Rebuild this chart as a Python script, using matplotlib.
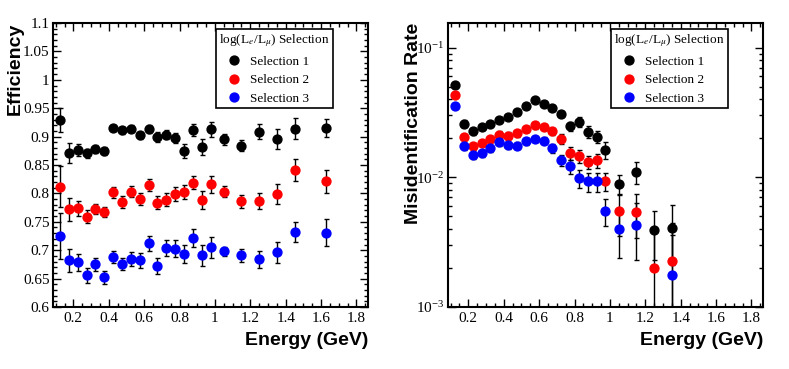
import numpy as np
import matplotlib
matplotlib.use('Agg')
import matplotlib.pyplot as plt
from matplotlib.ticker import MultipleLocator, LogLocator, NullFormatter

plt.rcParams['font.family'] = ['Liberation Serif', 'DejaVu Serif']
plt.rcParams['mathtext.fontset'] = 'stix'

# energy bin centres (GeV)
energy = [0.125, 0.175, 0.225, 0.275, 0.325, 0.375, 0.425, 0.475, 0.525, 0.575,
          0.625, 0.675, 0.725, 0.775, 0.825, 0.875, 0.925, 0.975,
          1.05, 1.15, 1.25, 1.35, 1.45, 1.625]

# efficiency
eff1 = [0.929, 0.871, 0.876, 0.871, 0.878, 0.874, 0.915, 0.911, 0.914, 0.902, 0.914, 0.899,
        0.903, 0.897, 0.875, 0.912, 0.882, 0.913, 0.895, 0.884, 0.909, 0.896, 0.914, 0.915]
eff1_err = [0.021, 0.017, 0.011, 0.008, 0.007, 0.007, 0.005, 0.006, 0.006, 0.007, 0.007, 0.009,
            0.008, 0.009, 0.012, 0.011, 0.014, 0.013, 0.010, 0.010, 0.014, 0.017, 0.019, 0.016]
eff2 = [0.812, 0.772, 0.774, 0.759, 0.772, 0.767, 0.802, 0.785, 0.803, 0.790, 0.815, 0.784,
        0.789, 0.799, 0.803, 0.819, 0.789, 0.816, 0.803, 0.786, 0.787, 0.799, 0.841, 0.821]
eff2_err = [0.036, 0.020, 0.013, 0.011, 0.009, 0.009, 0.010, 0.010, 0.010, 0.011, 0.011, 0.011,
            0.012, 0.012, 0.012, 0.012, 0.016, 0.015, 0.010, 0.011, 0.014, 0.017, 0.019, 0.020]
eff3 = [0.725, 0.682, 0.679, 0.656, 0.675, 0.652, 0.688, 0.676, 0.684, 0.682, 0.712, 0.672,
        0.704, 0.703, 0.694, 0.722, 0.691, 0.705, 0.698, 0.691, 0.684, 0.696, 0.732, 0.731]
eff3_err = [0.040, 0.021, 0.015, 0.013, 0.012, 0.012, 0.011, 0.011, 0.012, 0.013, 0.013, 0.014,
            0.014, 0.015, 0.016, 0.016, 0.018, 0.018, 0.008, 0.012, 0.015, 0.018, 0.018, 0.024]

# misidentification rate (only up to 1.35 GeV)
energy_mis = energy[:22]
mis1 = [0.0512, 0.0260, 0.0227, 0.0244, 0.0260, 0.0279, 0.0291, 0.0318, 0.0358, 0.0392, 0.0369,
        0.0344, 0.0309, 0.0248, 0.0268, 0.0225, 0.0206, 0.0162, 0.0089, 0.0110, 0.0039, 0.0041]
mis1_err = [0.0020, 0.0015, 0.0013, 0.0013, 0.0013, 0.0014, 0.0014, 0.0015, 0.0016, 0.0017, 0.0017,
            0.0017, 0.0018, 0.0020, 0.0025, 0.0025, 0.0022, 0.0024, 0.0016, 0.0021, 0.0016, 0.0020]
mis2 = [0.0434, 0.0205, 0.0174, 0.0184, 0.0198, 0.0214, 0.0210, 0.0218, 0.0238, 0.0252, 0.0244,
        0.0227, 0.0198, 0.0154, 0.0145, 0.0131, 0.0135, 0.0093, 0.0055, 0.0054, 0.0020, 0.00225]
mis2_err = [0.0018, 0.0012, 0.0011, 0.0011, 0.0012, 0.0012, 0.0012, 0.0012, 0.0013, 0.0014, 0.0014,
            0.0014, 0.0018, 0.0017, 0.0017, 0.0016, 0.0016, 0.0015, 0.0020, 0.0020, 0.0020, 0.0022]
mis3 = [0.0358, 0.0174, 0.0148, 0.0154, 0.0167, 0.0187, 0.0177, 0.0176, 0.0190, 0.0198, 0.0192,
        0.0167, 0.0136, 0.0122, 0.0098, 0.0093, 0.0093, 0.0055, 0.0040, 0.0043, np.nan, 0.00177]
mis3_err = [0.0016, 0.0011, 0.0010, 0.0010, 0.0010, 0.0011, 0.0011, 0.0011, 0.0011, 0.0012, 0.0012,
            0.0013, 0.0013, 0.0015, 0.0015, 0.0016, 0.0016, 0.0013, 0.0016, 0.0020, np.nan, 0.0018]

labels = ['Selection 1', 'Selection 2', 'Selection 3']
colors = ['black', 'red', 'blue']
legend_title = r'log(L$_{e}$/L$_{\mu}$) Selection'
xtick_labels = ['0.2', '0.4', '0.6', '0.8', '1', '1.2', '1.4', '1.6', '1.8']

fig = plt.figure(figsize=(7.89, 3.69), dpi=100)
ax1 = fig.add_axes([0.0672, 0.168, 0.3992, 0.7696])
ax2 = fig.add_axes([0.5678, 0.168, 0.3992, 0.7696])


def draw(ax, x, series, errs):
    handles = []
    for y, e, c, lab in zip(series, errs, colors, labels):
        ax.errorbar(x, y, yerr=e, fmt='none', ecolor='black', elinewidth=1.0,
                    capsize=1.8, capthick=1.0, zorder=2)
        h, = ax.plot(x, y, 'o', color=c, ms=6.4, mec=c, ls='none', label=lab, zorder=3)
        handles.append(h)
    leg = ax.legend(handles=handles, title=legend_title, loc='upper left',
                    bbox_to_anchor=(0.517, 0.979), borderaxespad=0, fontsize=9.5,
                    title_fontsize=9.5, alignment='left', fancybox=False,
                    edgecolor='black', framealpha=1, handlelength=2.2,
                    handletextpad=0.15, labelspacing=0.48, borderpad=0.25)
    leg.get_frame().set_linewidth(1.2)
    ax.set_xlim(0.085, 1.865)
    ax.set_xticks(np.arange(0.2, 1.801, 0.2))
    ax.set_xticklabels(xtick_labels)
    ax.xaxis.set_minor_locator(MultipleLocator(0.05))
    ax.tick_params(which='both', direction='in', top=True, right=True, labelsize=11, width=1.0)
    ax.tick_params(which='major', length=6)
    ax.tick_params(which='minor', length=3)
    for s in ax.spines.values():
        s.set_linewidth(1.5)
    ax.text(1.0, -0.118, 'Energy (GeV)', transform=ax.transAxes, ha='right', va='center',
            fontsize=14, fontweight='bold', family='Liberation Sans')


draw(ax1, energy, [eff1, eff2, eff3], [eff1_err, eff2_err, eff3_err])
ax1.set_ylim(0.6, 1.1)
ax1.set_yticks(np.arange(0.6, 1.1001, 0.05))
ax1.set_yticklabels(['0.6', '0.65', '0.7', '0.75', '0.8', '0.85', '0.9', '0.95', '1', '1.05', '1.1'])
ax1.yaxis.set_minor_locator(MultipleLocator(0.01))
ax1.tick_params(axis='y', pad=2.5)
ax1.text(-0.12, 1.0, 'Efficiency', transform=ax1.transAxes, rotation=90, ha='center', va='top',
         fontsize=14, fontweight='bold', family='Liberation Sans')

draw(ax2, energy_mis, [mis1, mis2, mis3], [mis1_err, mis2_err, mis3_err])
ax2.set_yscale('log')
ax2.set_ylim(1e-3, 0.155)
ax2.yaxis.set_major_locator(LogLocator(base=10))
ax2.yaxis.set_minor_locator(LogLocator(base=10, subs=np.arange(2, 10)))
ax2.yaxis.set_minor_formatter(NullFormatter())
ax2.tick_params(axis='y', pad=2.5)
ax2.text(-0.111, 1.0, 'Misidentification Rate', transform=ax2.transAxes, rotation=90,
         ha='center', va='top', fontsize=14, fontweight='bold', family='Liberation Sans')

fig.savefig('out.png', dpi=100)
